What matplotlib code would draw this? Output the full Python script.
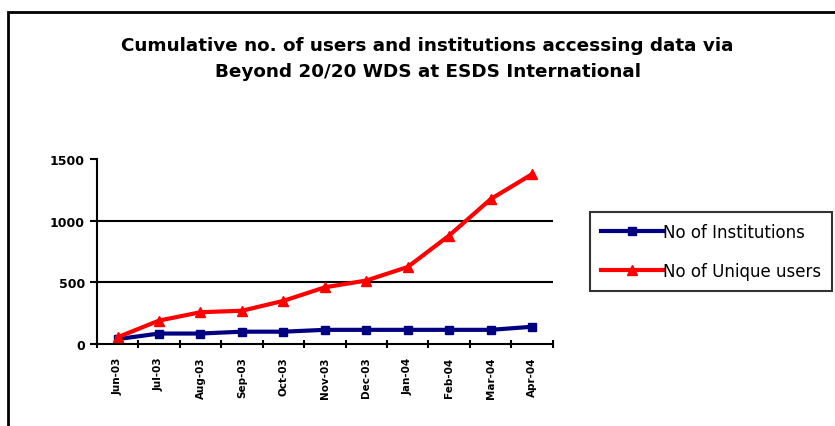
import matplotlib
matplotlib.use("Agg")
import matplotlib.pyplot as plt
from matplotlib.patches import Rectangle

# data
months = ["Jun-03", "Jul-03", "Aug-03", "Sep-03", "Oct-03", "Nov-03",
          "Dec-03", "Jan-04", "Feb-04", "Mar-04", "Apr-04"]
institutions = [40, 85, 85, 100, 100, 115, 115, 115, 115, 115, 140]
unique_users = [55, 190, 258, 270, 350, 460, 515, 625, 880, 1175, 1378]
yticks = [0, 500, 1000, 1500]

title = ("Cumulative no. of users and institutions accessing data via\n"
         "Beyond 20/20 WDS at ESDS International")

fig = plt.figure(figsize=(8.35, 4.27), dpi=100)
ax = fig.add_axes([0.116, 0.192, 0.546, 0.433])

x = list(range(len(months)))
ax.plot(x, institutions, color="#000080", lw=3, marker="s", ms=5.5,
        label="No of Institutions")
ax.plot(x, unique_users, color="#ff0000", lw=3, marker="^", ms=7.5,
        label="No of Unique users")

ax.set_xlim(-0.5, len(months) - 0.5)
ax.set_ylim(0, 1500)
ax.set_yticks(yticks)
ax.set_yticklabels([str(v) for v in yticks], fontsize=9, fontweight="bold")
ax.set_xticks(x)
ax.set_xticklabels(months, rotation=90, fontsize=7.5, fontweight="bold")
ax.tick_params(axis="x", length=0, pad=9)
ax.set_xticks([i - 0.5 for i in range(len(months) + 1)], minor=True)
ax.tick_params(axis="x", which="minor", length=6, width=1.5, direction="inout")
ax.tick_params(axis="y", length=5, width=1.5)

ax.yaxis.grid(True, color="black", lw=1.5)
ax.get_ygridlines()[-1].set_visible(False)
ax.get_ygridlines()[0].set_visible(False)
ax.set_axisbelow(True)

for s in ["top", "right"]:
    ax.spines[s].set_visible(False)
for s in ["left", "bottom"]:
    ax.spines[s].set_linewidth(1.5)

fig.text(0.512, 0.862, title, ha="center", va="center", fontsize=13.2,
         fontweight="bold", linespacing=1.55)

leg = fig.legend(loc="upper left", bbox_to_anchor=(0.7066, 0.501),
                 fontsize=12, frameon=True, fancybox=False,
                 handlelength=3.7, borderpad=0.65, labelspacing=1.25,
                 handletextpad=0.05, borderaxespad=0)
leg.get_frame().set_edgecolor("black")
leg.get_frame().set_linewidth(1.5)

# outer chart border
fig.patches.append(Rectangle((0.010, -0.1), 1.1, 1.069, transform=fig.transFigure,
                             fill=False, edgecolor="black", lw=2))

fig.savefig("out.png", dpi=100)
